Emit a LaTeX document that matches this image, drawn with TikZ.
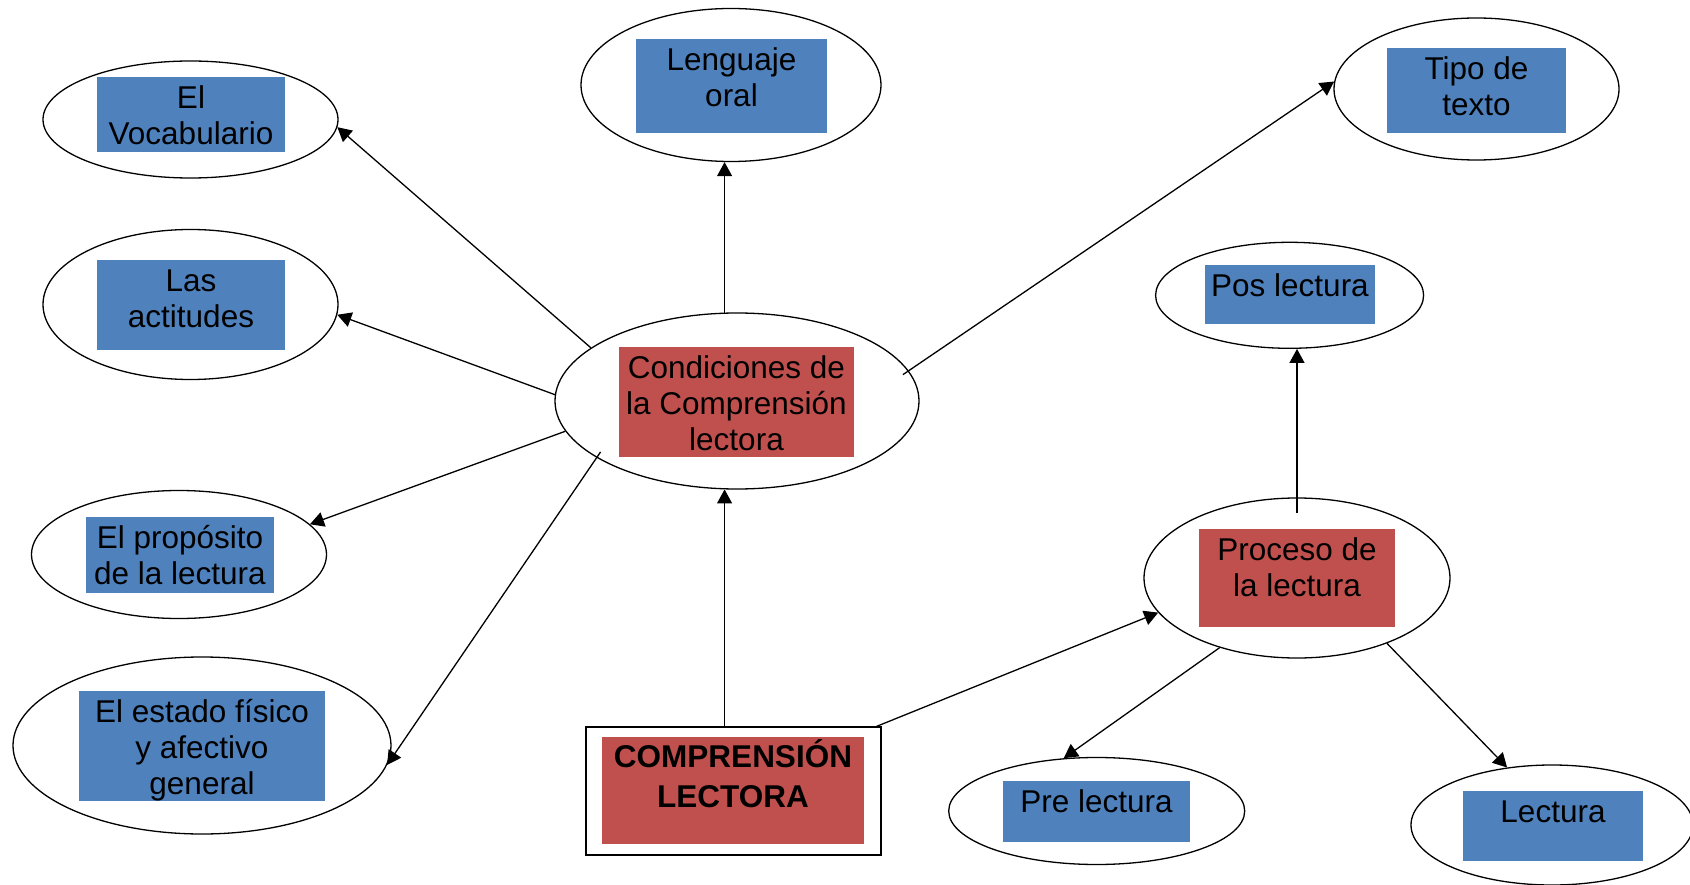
\documentclass[tikz,border=0pt]{standalone}
\usepackage{fontspec}
\setmainfont{Liberation Sans}
\usetikzlibrary{shapes.geometric,arrows.meta}
\definecolor{boxred}{HTML}{C0504D}
\definecolor{boxblue}{HTML}{4F81BD}
\tikzset{
  ell/.style={ellipse, draw, line width=1.3pt, inner sep=0pt},
  lbl/.style={anchor=north, align=center, inner sep=0pt, font=\fontsize{31.5}{36}\selectfont},
  boldlbl/.style={anchor=north, align=center, inner sep=0pt, font=\bfseries\fontsize{31.5}{40}\selectfont},
  arr/.style={-{Triangle[length=14pt,width=15pt]}, line width=1.3pt},
  redbox/.style={fill=boxred},
  bluebox/.style={fill=boxblue}
}
\begin{document}
\begin{tikzpicture}[x=1pt,y=-1pt]
\useasboundingbox (0,0) rectangle (1690,885);
\fill[white] (0,0) rectangle (1690,885);

% ellipses
\node[ell, minimum width=295pt, minimum height=117pt] (voc) at (190.5,119.5) {};
\node[ell, minimum width=300pt, minimum height=153pt] (leng) at (731,85) {};
\node[ell, minimum width=285pt, minimum height=142pt] (tipo) at (1476.5,89) {};
\node[ell, minimum width=295pt, minimum height=150pt] (act) at (190.5,304.5) {};
\node[ell, minimum width=364pt, minimum height=176pt] (cond) at (737,401) {};
\node[ell, minimum width=268pt, minimum height=106pt] (pos) at (1289.6,295.3) {};
\node[ell, minimum width=295pt, minimum height=128pt] (prop) at (179,554.5) {};
\node[ell, minimum width=306pt, minimum height=160pt] (proc) at (1297,578) {};
\node[ell, minimum width=378pt, minimum height=177pt] (est) at (202,745.5) {};
\node[ell, minimum width=296pt, minimum height=107pt] (pre) at (1096.7,811) {};
\node[ell, minimum width=282pt, minimum height=120pt] (lect) at (1552,825) {};
\node[draw, line width=1.3pt, minimum width=295pt, minimum height=128pt, inner sep=0pt] (comp) at (733.5,791) {};

% coloured boxes
\fill[bluebox] (97,77) rectangle (285,152);
\fill[bluebox] (636,39) rectangle (827,133);
\fill[bluebox] (1387,48) rectangle (1566,133);
\fill[bluebox] (97,260) rectangle (285,350);
\fill[redbox] (619,347) rectangle (854,457);
\fill[bluebox] (1205,265) rectangle (1375,324);
\fill[bluebox] (86,517) rectangle (274,593);
\fill[redbox] (1199,529) rectangle (1395,627);
\fill[bluebox] (79,691) rectangle (325,801);
\fill[redbox] (602,737) rectangle (864,844);
\fill[bluebox] (1003,781) rectangle (1190,842);
\fill[bluebox] (1463,791) rectangle (1643,861);

% texts
\node[lbl] (tvoc) at (191,83.5) {\strut El\\Vocabulario};
\node[lbl] (tleng) at (731.5,45.5) {\strut Lenguaje\\oral};
\node[lbl] (ttipo) at (1476.5,54.5) {\strut Tipo de\\texto};
\node[lbl] (tact) at (191,266.5) {\strut Las\\actitudes};
\node[lbl] (tcond) at (736.5,353.5) {\strut Condiciones de\\la Comprensión\\lectora};
\node[lbl] (tpos) at (1290,271.5) {\strut Pos lectura};
\node[lbl] (tprop) at (180,523.5) {\strut El propósito\\de la lectura};
\node[lbl] (tproc) at (1297,535.5) {\strut Proceso de\\la lectura};
\node[lbl] (test) at (202,697.5) {\strut El estado físico\\y afectivo\\general};
\node[boldlbl] (tcomp) at (733,739) {\strut COMPRENSIÓN\\LECTORA};
\node[lbl] (tpre) at (1096.5,787.5) {\strut Pre lectura};
\node[lbl] (tlect) at (1553,797.5) {\strut Lectura};

% connectors
\draw[arr] (cond.160) -- (voc.357);
\draw[arr] (cond.98) -- (cond.98 |- leng.south);
\draw[arr, shorten <=-7pt] (cond.10) -- (tipo.177);
\draw[arr] (cond.178) -- (act.356);
\draw[arr] (cond.190) -- (prop.13);
\draw[arr, shorten <=-7pt] (cond.202) -- (est.354);
\draw[arr] (cond.262 |- comp.north) -- (cond.262);
\draw[arr] ([xshift=-5pt]comp.north east) -- (proc.194);
\draw[arr] ([yshift=-16pt]proc.north) -- (proc.north |- pos.south);
\draw[arr] (proc.222) -- (pre.122);
\draw[arr] (proc.324) -- (lect.128);
\end{tikzpicture}
\end{document}
